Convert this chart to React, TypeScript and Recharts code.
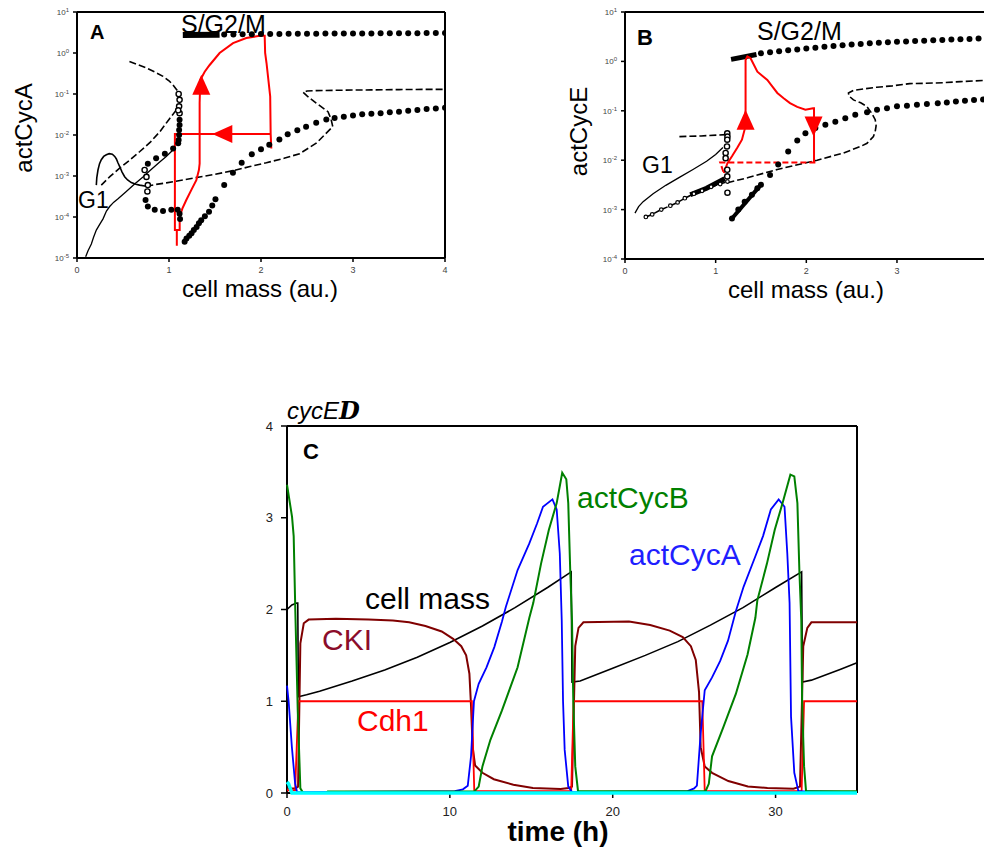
import React from "react";
import { ComposedChart, Line, Scatter, XAxis, YAxis, ReferenceLine } from "recharts";

type Pt = [number, number];

// ---------- panel A: actCycA vs cell mass ----------
const aUpperBand: Pt[] = [[1.15, 2.75], [1.55, 2.8]];
const aUpperDots: Pt[] = [
  [1.6, 2.82], [1.7, 2.84], [1.8, 2.86], [1.9, 2.88], [2.0, 2.9], [2.1, 2.91], [2.2, 2.92],
  [2.3, 2.93], [2.4, 2.94], [2.5, 2.95], [2.6, 2.96], [2.7, 2.97], [2.8, 2.98], [2.9, 2.99],
  [3.0, 3.0], [3.1, 3.0], [3.2, 3.01], [3.3, 3.02], [3.4, 3.03], [3.5, 3.04], [3.6, 3.05],
  [3.7, 3.05], [3.8, 3.06], [3.9, 3.07], [4.0, 3.08],
];
const aLowerDots: Pt[] = [
  [1.17, 2.5e-5], [1.19, 3.0e-5], [1.22, 3.5e-5], [1.245, 4.0e-5], [1.27, 4.8e-5], [1.3, 5.7e-5],
  [1.325, 7.0e-5], [1.35, 8.3e-5], [1.39, 1.05e-4], [1.435, 1.35e-4], [1.47, 1.9e-4], [1.505, 2.7e-4],
  [1.6, 6.0e-4], [1.695, 1.2e-3], [1.79, 2.1e-3], [1.9, 3.4e-3], [2.0, 4.5e-3], [2.09, 5.8e-3],
  [2.2, 7.8e-3], [2.29, 1.05e-2], [2.395, 1.3e-2], [2.49, 1.6e-2], [2.6, 2.0e-2], [2.71, 2.4e-2],
  [2.8, 2.6e-2], [2.9, 2.8e-2], [3.0, 3.0e-2], [3.1, 3.2e-2], [3.2, 3.3e-2], [3.3, 3.4e-2],
  [3.4, 3.6e-2], [3.5, 3.7e-2], [3.6, 3.9e-2], [3.7, 4.1e-2], [3.8, 4.3e-2], [3.9, 4.4e-2], [4.0, 4.6e-2],
];
const aMidDots: Pt[] = [
  [1.115, 0.0234], [1.115, 0.0176], [1.11, 0.0132], [1.11, 0.01], [1.105, 0.0076], [1.1, 0.0063],
  [1.045, 0.0047], [0.955, 0.0035], [0.86, 0.0027], [0.77, 0.002], [0.745, 2.6e-4], [0.77, 1.8e-4],
  [0.845, 1.5e-4], [0.935, 1.4e-4], [1.025, 1.5e-4], [1.095, 1.5e-4], [1.115, 1.2e-4], [1.12, 9e-5],
];
const aOpenDots: Pt[] = [
  [1.105, 0.1], [1.115, 0.072], [1.11, 0.05], [1.115, 0.034], [1.1, 0.04],
  [0.735, 0.0014], [0.755, 9.5e-4], [0.77, 6.0e-4], [0.765, 4.2e-4],
];
const aDashUpper: Pt[] = [
  [0.57, 0.62], [0.65, 0.53], [0.754, 0.43], [0.85, 0.34], [0.935, 0.27], [1.0, 0.21],
  [1.043, 0.167], [1.075, 0.135], [1.098, 0.115],
];
const aDashLower: Pt[] = [
  [1.08, 0.041], [1.0, 0.024], [0.9, 0.012], [0.8, 0.0068], [0.68, 0.0039], [0.57, 0.0024],
  [0.464, 0.00155], [0.36, 9.8e-4], [0.264, 6.0e-4],
];
const aLoop: Pt[] = [
  [0.21, 6.0e-4], [0.215, 9e-4], [0.228, 1.4e-3], [0.245, 2.0e-3], [0.264, 2.5e-3], [0.29, 3.0e-3],
  [0.319, 3.3e-3], [0.35, 3.5e-3], [0.384, 3.4e-3], [0.41, 3.0e-3], [0.428, 2.6e-3], [0.445, 2.1e-3],
  [0.464, 1.7e-3], [0.49, 1.25e-3], [0.518, 9.6e-4], [0.55, 8.0e-4], [0.59, 6.9e-4], [0.64, 6.3e-4],
  [0.68, 6.0e-4], [0.754, 5.6e-4],
];
const aDashS: Pt[] = [
  [0.754, 5.6e-4], [0.85, 6.2e-4], [0.971, 6.8e-4], [1.15, 8.0e-4], [1.333, 9.5e-4], [1.5, 1.1e-3],
  [1.696, 1.35e-3], [1.88, 1.7e-3], [2.058, 2.1e-3], [2.25, 2.7e-3], [2.42, 3.5e-3], [2.6, 6.3e-3],
  [2.69, 0.01], [2.78, 0.016], [2.76, 0.025], [2.728, 0.037], [2.6, 0.06], [2.5, 0.09], [2.457, 0.11],
  [2.5, 0.118], [2.6, 0.121], [2.8, 0.123], [3.0, 0.125], [3.2, 0.126], [3.5, 0.128], [3.8, 0.13], [4.0, 0.13],
];
const aSolidBottom: Pt[] = [
  [0.094, 1.07e-5], [0.12, 1.5e-5], [0.156, 2.2e-5], [0.18, 3.2e-5], [0.21, 4.8e-5], [0.25, 6.8e-5],
  [0.283, 9e-5], [0.32, 1.4e-4], [0.355, 1.8e-4], [0.4, 2.3e-4], [0.446, 2.8e-4], [0.536, 4.2e-4],
  [0.62, 6.2e-4], [0.717, 9.5e-4], [0.8, 1.4e-3], [0.899, 2.2e-3], [0.97, 3.0e-3], [1.043, 4.3e-3],
];
const aRed: Pt[] = [
  [2.112, 4.7e-3], [2.105, 0.0106], [1.064, 0.0106], [1.064, 4.8e-5], [1.085, 4.8e-5], [1.085, 2.0e-5],
  [1.085, 4.8e-5], [1.116, 4.8e-5], [1.116, 1.0e-4], [1.145, 1.6e-4], [1.188, 2.6e-4], [1.243, 4.6e-4],
  [1.297, 7.9e-4], [1.325, 1.4e-3], [1.333, 2.0e-3], [1.333, 0.06], [1.34, 0.22], [1.388, 0.35],
  [1.442, 0.51], [1.55, 1.0], [1.696, 1.74], [1.84, 2.31], [1.986, 2.64], [2.04, 2.64], [2.045, 1.0],
  [2.06, 0.57], [2.1, 0.087], [2.105, 0.0106],
];
const aArrows = [
  { x: 1.351, y: 0.294, dir: "up" },
  { x: 1.471, y: 0.0106, dir: "left" },
];

// ---------- panel B: actCycE vs cell mass ----------
const bUpperBand: Pt[] = [[1.17, 1.1], [1.45, 1.38]];
const bUpperDots: Pt[] = [
  [1.5, 1.46], [1.6, 1.53], [1.7, 1.6], [1.8, 1.68], [1.9, 1.75], [2.0, 1.82], [2.1, 1.9], [2.2, 1.97],
  [2.3, 2.04], [2.4, 2.12], [2.5, 2.2], [2.6, 2.26], [2.7, 2.32], [2.8, 2.38], [2.9, 2.45], [3.0, 2.5],
  [3.1, 2.54], [3.2, 2.58], [3.3, 2.63], [3.4, 2.67], [3.5, 2.72], [3.6, 2.76], [3.7, 2.8], [3.8, 2.85], [3.9, 2.9],
];
const bLowerBand: Pt[] = [[1.18, 6.6e-4], [1.5, 3.2e-3]];
const bLowerDots: Pt[] = [
  [1.18, 6.6e-4], [1.25, 1.0e-3], [1.32, 1.45e-3], [1.4, 2.0e-3], [1.46, 2.7e-3], [1.5, 3.2e-3],
  [1.6, 5.0e-3], [1.69, 8.2e-3], [1.8, 0.015], [1.9, 0.025], [1.99, 0.035], [2.1, 0.045], [2.21, 0.052],
  [2.32, 0.06], [2.43, 0.071], [2.54, 0.083], [2.67, 0.093], [2.78, 0.105], [2.89, 0.112], [3.0, 0.123],
  [3.11, 0.126], [3.22, 0.132], [3.33, 0.138], [3.45, 0.142], [3.55, 0.148], [3.65, 0.155], [3.75, 0.16],
  [3.85, 0.165], [3.95, 0.17],
];
const bOpenDash: Pt[] = [
  [0.23, 7.1e-4], [0.3, 8e-4], [0.4, 1.0e-3], [0.5, 1.2e-3], [0.58, 1.4e-3], [0.66, 1.7e-3],
  [0.76, 2.1e-3], [0.85, 2.4e-3], [0.95, 2.9e-3], [1.05, 3.3e-3], [1.13, 3.7e-3],
];
const bCluster: Pt[] = [[0.72, 2.0e-3], [0.9, 2.7e-3], [1.1, 4.2e-3]];
const bOpenDots: Pt[] = [
  [1.128, 0.035], [1.13, 0.03], [1.128, 0.026], [1.125, 0.019], [1.11, 0.014], [1.11, 0.011],
  [1.128, 6.4e-3], [1.128, 4.7e-3], [1.13, 2.2e-3],
];
const bDashTop: Pt[] = [[0.6, 0.03], [0.84, 0.031], [1.11, 0.033]];
const bSolid: Pt[] = [
  [0.11, 8.5e-4], [0.15, 1.15e-3], [0.2, 1.45e-3], [0.31, 2.1e-3], [0.45, 3.1e-3], [0.6, 4.5e-3],
  [0.75, 6.5e-3], [0.9, 9.5e-3], [1.0, 0.013], [1.08, 0.018],
];
const bDashS: Pt[] = [
  [1.13, 3.5e-3], [1.35, 4.4e-3], [1.68, 6.5e-3], [2.12, 0.01], [2.41, 0.014], [2.6, 0.019], [2.67, 0.022],
  [2.74, 0.03], [2.76, 0.038], [2.77, 0.05], [2.76, 0.066], [2.72, 0.09], [2.667, 0.123], [2.6, 0.145],
  [2.52, 0.166], [2.47, 0.2], [2.465, 0.23], [2.52, 0.26], [2.65, 0.28], [2.777, 0.3], [2.95, 0.32],
  [3.14, 0.355], [3.3, 0.36], [3.51, 0.37], [3.7, 0.39], [3.95, 0.41],
];
const bRed: Pt[] = [
  [1.09, 5.5e-3], [1.13, 8.7e-3], [1.18, 0.012], [1.24, 0.018], [1.29, 0.026], [1.32, 0.042], [1.33, 0.105],
  [1.33, 1.07], [1.35, 1.26], [1.385, 1.16], [1.46, 0.62], [1.52, 0.5], [1.57, 0.42], [1.62, 0.32],
  [1.68, 0.23], [1.75, 0.18], [1.82, 0.143], [1.9, 0.12], [1.99, 0.105], [2.075, 0.113], [2.085, 0.113],
  [2.085, 9.0e-3],
];
const bRedDash: Pt[] = [[2.1, 9.0e-3], [1.05, 9.0e-3], [1.09, 5.5e-3]];
const bArrows = [
  { x: 1.33, y: 0.105, dir: "up" },
  { x: 2.08, y: 0.0303, dir: "down" },
];

// ---------- panel C: time courses ----------
const cMass: Pt[] = [
  [0, 2.0], [0.3, 2.05], [0.6, 2.07], [0.66, 2.07], [0.7, 1.05], [1.2, 1.07], [2, 1.11], [4, 1.22],
  [6, 1.34], [8, 1.48], [10, 1.64], [12, 1.82], [14, 2.02], [16, 2.24], [17.45, 2.41], [17.5, 1.21],
  [18, 1.22], [20, 1.36], [22, 1.5], [24, 1.65], [26, 1.83], [28, 2.02], [30, 2.24], [31.6, 2.41],
  [31.65, 1.21], [32.2, 1.23], [34, 1.35], [35, 1.42],
];
const cCKI: Pt[] = [
  [0, 0.05], [0.5, 0.05], [0.68, 0.07], [0.82, 1.63], [1.03, 1.85], [1.33, 1.89], [3, 1.9], [5, 1.89],
  [6.5, 1.88], [7.5, 1.86], [8.5, 1.82], [9.5, 1.76], [10.2, 1.68], [10.7, 1.6], [11.0, 1.5], [11.2, 1.3],
  [11.3, 0.95], [11.4, 0.5], [11.55, 0.3], [12.0, 0.22], [12.7, 0.15], [13.9, 0.09], [15.1, 0.055],
  [16.8, 0.043], [17.3, 0.055], [17.5, 0.07], [17.7, 1.6], [17.9, 1.8], [18.2, 1.86], [21, 1.87],
  [22.3, 1.83], [23.5, 1.77], [24.3, 1.7], [24.8, 1.6], [25.1, 1.45], [25.3, 1.1], [25.4, 0.5],
  [25.65, 0.29], [26.1, 0.22], [27.1, 0.13], [28.3, 0.072], [29.5, 0.055], [31.1, 0.047], [31.5, 0.07],
  [31.7, 1.6], [31.95, 1.8], [32.2, 1.86], [35, 1.86],
];
const cCdh1: Pt[] = [
  [0, 0.03], [0.5, 0.03], [0.7, 1.0], [11.35, 1.0], [11.5, 0.02], [17.45, 0.02], [17.6, 1.0],
  [25.5, 1.0], [25.65, 0.02], [31.6, 0.02], [31.75, 1.0], [35, 1.0],
];
const cCycA: Pt[] = [
  [0, 1.17], [0.1, 1.0], [0.3, 0.5], [0.5, 0.1], [0.62, 0.01], [1, 0.01], [10.3, 0.02], [10.8, 0.04],
  [11.1, 0.08], [11.3, 0.4], [11.48, 1.0], [11.77, 1.19], [12.25, 1.37], [12.73, 1.59], [13.2, 1.87],
  [13.44, 2.03], [14.16, 2.43], [14.88, 2.72], [15.36, 2.94], [15.72, 3.12], [16.3, 3.2], [16.56, 3.09],
  [16.75, 2.61], [16.87, 1.88], [16.95, 1.0], [17.05, 0.47], [17.27, 0.07], [17.5, 0.01], [24.6, 0.02],
  [25.0, 0.05], [25.17, 0.08], [25.4, 0.65], [25.65, 1.12], [26.1, 1.26], [26.6, 1.44], [27.08, 1.66],
  [27.56, 1.98], [28.04, 2.25], [28.76, 2.58], [29.23, 2.8], [29.71, 3.09], [30.19, 3.2], [30.55, 3.12],
  [30.72, 2.61], [30.86, 2.07], [30.95, 0.83], [31.15, 0.22], [31.4, 0.02], [35, 0.01],
];
const cCycB: Pt[] = [
  [0, 3.36], [0.31, 3.01], [0.41, 2.8], [0.51, 1.99], [0.66, 0.9], [0.82, 0.05], [1.0, 0.0], [2.4, 0.0],
  [2.5, 0.015], [11.5, 0.015], [11.77, 0.07], [12.0, 0.29], [12.49, 0.58], [13.2, 0.9], [14.16, 1.37],
  [14.88, 1.91], [15.12, 2.07], [15.6, 2.5], [16.08, 2.87], [16.56, 3.16], [16.9, 3.49], [17.15, 3.42],
  [17.27, 3.16], [17.39, 2.43], [17.5, 1.88], [17.58, 1.0], [17.7, 0.29], [17.87, 0.02], [25.7, 0.02],
  [25.9, 0.1], [26.1, 0.4], [26.8, 0.72], [27.56, 1.08], [28.28, 1.51], [28.76, 1.91], [28.88, 2.1],
  [29.47, 2.5], [29.95, 2.87], [30.43, 3.16], [30.91, 3.47], [31.15, 3.45], [31.34, 3.16], [31.46, 2.43],
  [31.58, 1.88], [31.63, 1.0], [31.75, 0.29], [31.87, 0.02], [35, 0.02],
];
const cCyan: Pt[] = [[0, 0.12], [0.1, 0.1], [0.3, 0.0], [35, 0.0]];

const aTicksX = [0, 1, 2, 3, 4];
const aTicksY = [1e-5, 1e-4, 1e-3, 1e-2, 1e-1, 1, 10];
const bTicksX = [0, 1, 2, 3];
const bTicksY = [1e-4, 1e-3, 1e-2, 1e-1, 1, 10];
const cTicksX = [0, 10, 20, 30];
const cTicksY = [0, 1, 2, 3, 4];

const xy = (pts: Pt[]) => pts.map(([x, y]) => ({ x, y }));
const tv = (pts: Pt[]) => pts.map(([t, v]) => ({ t, v }));

const FONT = "'Liberation Sans', Arial, Helvetica, sans-serif";

const FilledDot = (p: any) => <circle cx={p.cx} cy={p.cy} r={3} fill="#000" />;
const OpenDot = (p: any) => (
  <circle cx={p.cx} cy={p.cy} r={2.6} fill="#fff" stroke="#000" strokeWidth={1.4} />
);
const SmallOpen = (p: any) => (
  <circle cx={p.cx} cy={p.cy} r={1.8} fill="#fff" stroke="#000" strokeWidth={1.2} />
);
const ROT: Record<string, number> = { up: 0, down: 180, left: -90, right: 90 };
const ArrowHead = (p: any) => (
  <polygon
    points="0,0 -9,20 9,20"
    fill="#ff0000"
    transform={`translate(${p.cx},${p.cy}) rotate(${ROT[p.payload.dir]})`}
  />
);

const PowTick = (p: any) => {
  const e = Math.round(Math.log10(p.payload.value));
  return (
    <text x={p.x} y={p.y} dy={3} textAnchor="end" fontSize={8} fill="#444">
      10
      <tspan fontSize={6} dy={-3}>
        {e < 0 ? `-${-e}` : `${e}`}
      </tspan>
    </text>
  );
};

const axisStroke = { stroke: "#000", strokeWidth: 2 };
const tickStroke = { stroke: "#000", strokeWidth: 1.5 };

const line = (key: string, pts: Pt[], color: string, w: number, dash?: string) => (
  <Line
    key={key}
    data={xy(pts)}
    dataKey="y"
    type="linear"
    stroke={color}
    strokeWidth={w}
    strokeDasharray={dash}
    dot={false}
    activeDot={false}
    isAnimationActive={false}
  />
);
const dots = (key: string, pts: Pt[], shape: any) => (
  <Scatter key={key} data={xy(pts)} dataKey="y" shape={shape} isAnimationActive={false} />
);

function PanelA() {
  return (
    <ComposedChart width={470} height={300} margin={{ top: 12, right: 25, left: 0, bottom: 0 }}>
      <XAxis
        type="number"
        dataKey="x"
        domain={[0, 4]}
        ticks={aTicksX}
        allowDataOverflow
        height={42}
        axisLine={axisStroke}
        tickLine={tickStroke}
        tickSize={4}
        tickMargin={5}
        tick={{ fontSize: 9, fill: "#444" }}
      />
      <YAxis
        type="number"
        dataKey="y"
        scale="log"
        domain={[1e-5, 10]}
        ticks={aTicksY}
        allowDataOverflow
        width={77}
        axisLine={axisStroke}
        tickLine={tickStroke}
        tickSize={4}
        tickMargin={4}
        tick={<PowTick />}
      />
      <ReferenceLine y={10} stroke="#000" strokeWidth={2} />
      <ReferenceLine x={4} stroke="#000" strokeWidth={2} />
      {line("aSolidBottom", aSolidBottom, "#000", 1.3)}
      {line("aLoop", aLoop, "#000", 1.6)}
      {line("aDashUpper", aDashUpper, "#000", 1.6, "7 3")}
      {line("aDashLower", aDashLower, "#000", 1.6, "7 3")}
      {line("aDashS", aDashS, "#000", 1.6, "7 3")}
      {line("aUpperBand", aUpperBand, "#000", 6)}
      {dots("aUpperDots", aUpperDots, FilledDot)}
      {dots("aLowerDots", aLowerDots, FilledDot)}
      {dots("aMidDots", aMidDots, FilledDot)}
      {dots("aOpenDots", aOpenDots, OpenDot)}
      {line("aRed", aRed, "#ff0000", 2)}
      <Scatter data={aArrows} dataKey="y" shape={ArrowHead} isAnimationActive={false} />
    </ComposedChart>
  );
}

function PanelB() {
  return (
    <ComposedChart width={436} height={300} margin={{ top: 12, right: 0, left: 0, bottom: 0 }}>
      <XAxis
        type="number"
        dataKey="x"
        domain={[0, 3.96]}
        ticks={bTicksX}
        allowDataOverflow
        height={41}
        axisLine={axisStroke}
        tickLine={tickStroke}
        tickSize={4}
        tickMargin={5}
        tick={{ fontSize: 9, fill: "#444" }}
      />
      <YAxis
        type="number"
        dataKey="y"
        scale="log"
        domain={[1e-4, 10]}
        ticks={bTicksY}
        allowDataOverflow
        width={77}
        axisLine={axisStroke}
        tickLine={tickStroke}
        tickSize={4}
        tickMargin={4}
        tick={<PowTick />}
      />
      <ReferenceLine y={10} stroke="#000" strokeWidth={2} />
      {line("bSolid", bSolid, "#000", 1.3)}
      {line("bDashTop", bDashTop, "#000", 1.6, "7 3")}
      {line("bDashS", bDashS, "#000", 1.6, "7 3")}
      {line("bOpenDash", bOpenDash, "#000", 1.6, "6 3")}
      {dots("bOpenDashDots", bOpenDash, SmallOpen)}
      {line("bCluster", bCluster, "#000", 5)}
      {line("bUpperBand", bUpperBand, "#000", 5)}
      {line("bLowerBand", bLowerBand, "#000", 4)}
      {dots("bUpperDots", bUpperDots, FilledDot)}
      {dots("bLowerDots", bLowerDots, FilledDot)}
      {dots("bOpenDots", bOpenDots, OpenDot)}
      {line("bRed", bRed, "#ff0000", 2)}
      {line("bRedDash", bRedDash, "#ff0000", 2, "6 3")}
      <Scatter data={bArrows} dataKey="y" shape={ArrowHead} isAnimationActive={false} />
    </ComposedChart>
  );
}

const cLine = (key: string, pts: Pt[], color: string, w: number) => (
  <Line
    key={key}
    data={tv(pts)}
    dataKey="v"
    type="linear"
    stroke={color}
    strokeWidth={w}
    dot={false}
    activeDot={false}
    isAnimationActive={false}
    {...({ zIndex: 700 } as any)}
  />
);

function PanelC() {
  return (
    <ComposedChart width={640} height={440} margin={{ top: 26, right: 13, left: 0, bottom: 0 }}>
      <XAxis
        type="number"
        dataKey="t"
        domain={[0, 35]}
        ticks={cTicksX}
        height={47}
        axisLine={axisStroke}
        tickLine={tickStroke}
        tickSize={5}
        tickMargin={9}
        tick={{ fontSize: 13, fill: "#222" }}
      />
      <YAxis
        type="number"
        dataKey="v"
        domain={[0, 4]}
        ticks={cTicksY}
        width={57}
        axisLine={axisStroke}
        tickLine={tickStroke}
        tickSize={6}
        tickMargin={8}
        tick={{ fontSize: 13, fill: "#222" }}
      />
      <ReferenceLine y={4} stroke="#000" strokeWidth={2} />
      <ReferenceLine x={35} stroke="#000" strokeWidth={2} />
      {cLine("mass", cMass, "#000", 1.6)}
      {cLine("cki", cCKI, "#800000", 2)}
      {cLine("cdh1", cCdh1, "#ff0000", 1.8)}
      {cLine("cycA", cCycA, "#0000ff", 1.8)}
      {cLine("cycB", cCycB, "#008000", 2)}
      {cLine("cyan", cCyan, "#00ffff", 3.5)}
    </ComposedChart>
  );
}

export default function App() {
  return (
    <div
      style={{
        position: "absolute",
        left: 0,
        top: 0,
        width: 984,
        height: 852,
        background: "#fff",
        fontFamily: FONT,
        overflow: "hidden",
      }}
    >
      <div style={{ position: "absolute", left: 0, top: 0 }}>
        <PanelA />
      </div>
      <div style={{ position: "absolute", left: 548, top: 0 }}>
        <PanelB />
      </div>
      <div style={{ position: "absolute", left: 230, top: 400 }}>
        <PanelC />
      </div>
      <svg
        width={984}
        height={852}
        style={{ position: "absolute", left: 0, top: 0, pointerEvents: "none" }}
        fontFamily={FONT}
      >
        {/* panel A */}
        <text x={90} y={39} fontSize={20} fontWeight="bold">A</text>
        <text x={181} y={33} fontSize={25}>S/G2/M</text>
        <text x={78} y={208} fontSize={23}>G1</text>
        <text transform="translate(31.5,128) rotate(-90)" textAnchor="middle" fontSize={24}>actCycA</text>
        <text x={260} y={297} textAnchor="middle" fontSize={24}>cell mass (au.)</text>
        {/* panel B */}
        <text x={637} y={45} fontSize={22} fontWeight="bold">B</text>
        <text x={757} y={40} fontSize={25}>S/G2/M</text>
        <text x={642} y={173} fontSize={23}>G1</text>
        <text transform="translate(586.5,131.5) rotate(-90)" textAnchor="middle" fontSize={24}>actCycE</text>
        <text x={806} y={298} textAnchor="middle" fontSize={24}>cell mass (au.)</text>
        {/* panel C */}
        <text x={287} y={419} fontSize={24} fontStyle="italic">
          cycE
          <tspan fontFamily="'DejaVu Serif', serif" fontWeight="bold">D</tspan>
        </text>
        <text x={303} y={459} fontSize={22} fontWeight="bold">C</text>
        <text x={577} y={508} fontSize={30} fill="#008000">actCycB</text>
        <text x={629} y={565} fontSize={30} fill="#1f1fff">actCycA</text>
        <text x={365} y={609} fontSize={30} fill="#000">cell mass</text>
        <text x={322} y={650} fontSize={30} fill="#8b0d2a">CKI</text>
        <text x={357} y={731} fontSize={30} fill="#ff0000">Cdh1</text>
        <text x={558} y={841} textAnchor="middle" fontSize={28} fontWeight="bold">time (h)</text>
      </svg>
    </div>
  );
}
